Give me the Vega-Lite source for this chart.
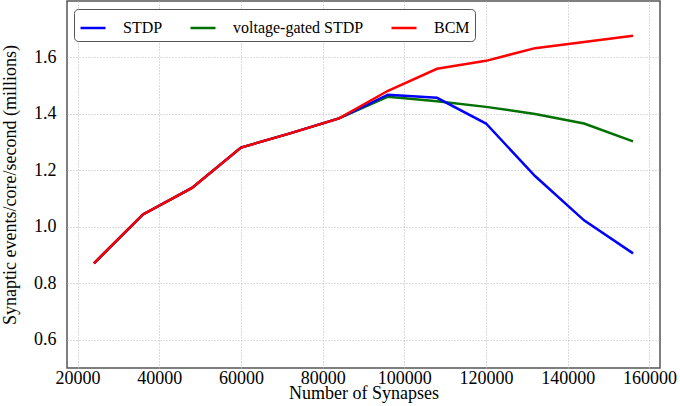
{
  "$schema": "https://vega.github.io/schema/vega-lite/v6.json",
  "width": 593,
  "height": 367,
  "autosize": {"type": "none"},
  "padding": {"left": 67, "top": 1, "right": 20, "bottom": 38},
  "background": "white",
  "config": {
    "font": "Liberation Serif",
    "view": {"stroke": "#555555", "strokeWidth": 1.5}
  },
  "data": {
    "values": [
      {"series": "voltage-gated STDP", "synapses": 24000, "rate": 0.871},
      {"series": "voltage-gated STDP", "synapses": 36000, "rate": 1.044},
      {"series": "voltage-gated STDP", "synapses": 48000, "rate": 1.138},
      {"series": "voltage-gated STDP", "synapses": 60000, "rate": 1.281},
      {"series": "voltage-gated STDP", "synapses": 72000, "rate": 1.331},
      {"series": "voltage-gated STDP", "synapses": 84000, "rate": 1.384},
      {"series": "voltage-gated STDP", "synapses": 96000, "rate": 1.461},
      {"series": "voltage-gated STDP", "synapses": 108000, "rate": 1.445},
      {"series": "voltage-gated STDP", "synapses": 120000, "rate": 1.425},
      {"series": "voltage-gated STDP", "synapses": 132000, "rate": 1.400},
      {"series": "voltage-gated STDP", "synapses": 144000, "rate": 1.366},
      {"series": "voltage-gated STDP", "synapses": 156000, "rate": 1.303},
      {"series": "STDP", "synapses": 24000, "rate": 0.871},
      {"series": "STDP", "synapses": 36000, "rate": 1.044},
      {"series": "STDP", "synapses": 48000, "rate": 1.138},
      {"series": "STDP", "synapses": 60000, "rate": 1.281},
      {"series": "STDP", "synapses": 72000, "rate": 1.331},
      {"series": "STDP", "synapses": 84000, "rate": 1.384},
      {"series": "STDP", "synapses": 96000, "rate": 1.468},
      {"series": "STDP", "synapses": 108000, "rate": 1.457},
      {"series": "STDP", "synapses": 120000, "rate": 1.366},
      {"series": "STDP", "synapses": 132000, "rate": 1.180},
      {"series": "STDP", "synapses": 144000, "rate": 1.023},
      {"series": "STDP", "synapses": 156000, "rate": 0.906},
      {"series": "BCM", "synapses": 24000, "rate": 0.871},
      {"series": "BCM", "synapses": 36000, "rate": 1.044},
      {"series": "BCM", "synapses": 48000, "rate": 1.138},
      {"series": "BCM", "synapses": 60000, "rate": 1.281},
      {"series": "BCM", "synapses": 72000, "rate": 1.331},
      {"series": "BCM", "synapses": 84000, "rate": 1.384},
      {"series": "BCM", "synapses": 96000, "rate": 1.482},
      {"series": "BCM", "synapses": 108000, "rate": 1.560},
      {"series": "BCM", "synapses": 120000, "rate": 1.588},
      {"series": "BCM", "synapses": 132000, "rate": 1.633},
      {"series": "BCM", "synapses": 144000, "rate": 1.655},
      {"series": "BCM", "synapses": 156000, "rate": 1.677}
    ]
  },
  "mark": {"type": "line", "strokeWidth": 2.5, "strokeCap": "butt", "strokeJoin": "miter"},
  "encoding": {
    "x": {
      "field": "synapses",
      "type": "quantitative",
      "title": "Number of Synapses",
      "scale": {"domain": [17400, 162600], "nice": false, "zero": false},
      "axis": {
        "values": [20000, 40000, 60000, 80000, 100000, 120000, 140000, 160000],
        "format": "d",
        "domain": false,
        "ticks": false,
        "grid": true,
        "gridColor": "#b8b8b8",
        "gridDash": [1, 2],
        "gridWidth": 1,
        "labelFont": "Liberation Serif",
        "labelFontSize": 18,
        "labelColor": "black",
        "labelPadding": 1,
        "titleFont": "Liberation Serif",
        "titleFontSize": 18,
        "titleFontWeight": "normal",
        "titleColor": "black",
        "titlePadding": -3
      }
    },
    "y": {
      "field": "rate",
      "type": "quantitative",
      "title": "Synaptic events/core/second (millions)",
      "scale": {"domain": [0.5, 1.8], "nice": false, "zero": false},
      "axis": {
        "values": [0.6, 0.8, 1.0, 1.2, 1.4, 1.6],
        "format": ".1f",
        "domain": false,
        "ticks": false,
        "grid": true,
        "gridColor": "#b8b8b8",
        "gridDash": [1, 2],
        "gridWidth": 1,
        "labelFont": "Liberation Serif",
        "labelFontSize": 18,
        "labelColor": "black",
        "labelPadding": 11,
        "titleFont": "Liberation Serif",
        "titleFontSize": 18,
        "titleFontWeight": "normal",
        "titleColor": "black",
        "titlePadding": 14
      }
    },
    "color": {
      "field": "series",
      "type": "nominal",
      "scale": {
        "domain": ["STDP", "voltage-gated STDP", "BCM"],
        "range": ["#0000ff", "#007000", "#ff0000"]
      },
      "legend": {
        "title": null,
        "orient": "none",
        "legendX": 7,
        "legendY": 8,
        "direction": "horizontal",
        "columns": 3,
        "symbolType": "stroke",
        "symbolSize": 625,
        "symbolStrokeWidth": 2.5,
        "labelFont": "Liberation Serif",
        "labelFontSize": 16,
        "labelColor": "black",
        "labelOffset": 16,
        "columnPadding": 22,
        "padding": 5,
        "strokeColor": "#555555",
        "fillColor": "white",
        "cornerRadius": 4
      }
    }
  }
}
